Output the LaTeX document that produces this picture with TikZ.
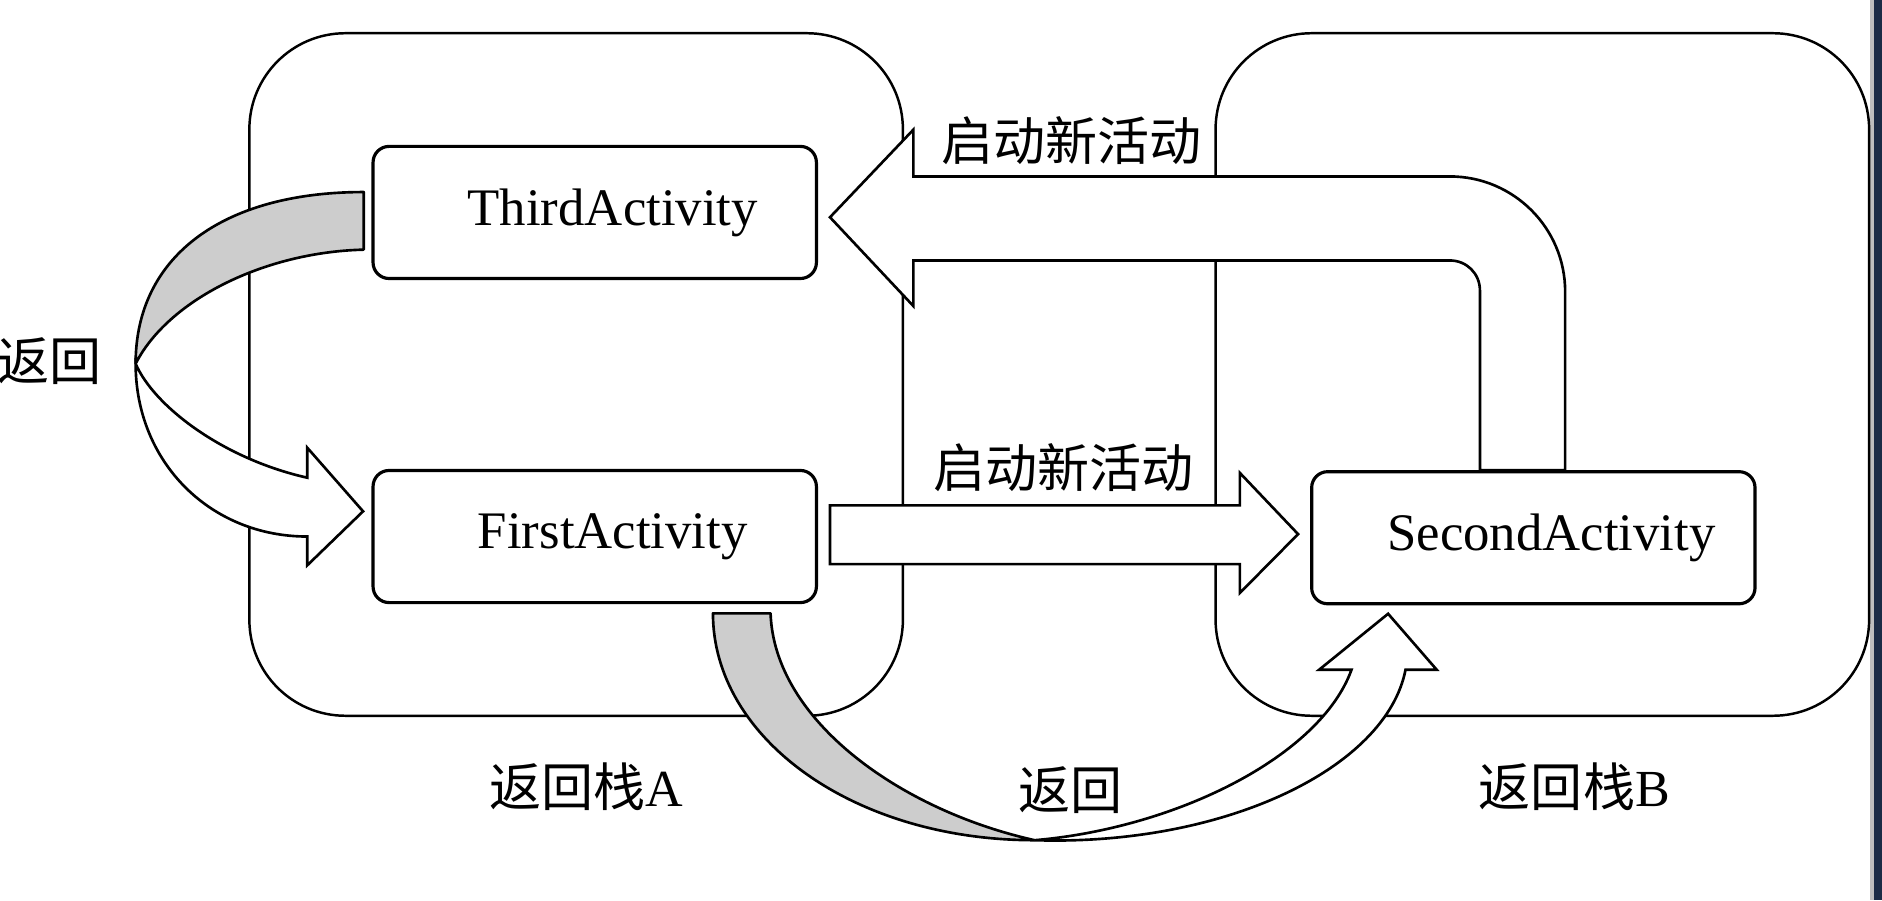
\documentclass[tikz,border=0pt]{standalone}
\usepackage{fontspec}
\setmainfont{Liberation Serif}
\newfontfamily\cjkfont{Noto Sans CJK SC}
\usetikzlibrary{calc,positioning}
\definecolor{ribbongray}{RGB}{205,205,205}
\definecolor{edgegray}{RGB}{190,190,190}
\definecolor{desknavy}{RGB}{28,44,70}
\tikzset{
  stackbox/.style={draw,line width=0.7pt,rounded corners=0.96cm,minimum width=6.53cm,minimum height=6.82cm,inner sep=0pt},
  actbox/.style={draw,fill=white,line width=0.9pt,rounded corners=0.16cm,minimum width=4.43cm,minimum height=1.32cm,
    inner sep=0pt,font=\fontsize{15}{18}\selectfont,execute at begin node={\hspace*{0.36cm}}},
  blockarrow/.style={draw,fill=white,line width=0.75pt,line join=miter},
  backface/.style={draw,fill=ribbongray,line width=0.75pt,line join=round},
  cnlabel/.style={font=\cjkfont\fontsize{14.8}{18}\selectfont,inner sep=0pt}
}
\begin{document}
\begin{tikzpicture}[x=0.012cm,y=-0.012cm]
  \useasboundingbox (0,0) rectangle (1568,750);
  \fill[edgegray] (1558,0) rectangle (1561,750);
  \fill[desknavy] (1561,0) rectangle (1568,750);
  \node[stackbox] (stackA) at (480,312) {};
  \node[stackbox] (stackB) at (1285,312) {};
  \node[cnlabel,below=0.45cm of stackA,xshift=0.1cm] (nameA) {返回栈\rmfamily A};
  \node[cnlabel,below=0.45cm of stackB,xshift=0.32cm] (nameB) {返回栈\rmfamily B};
  \node[actbox] (third) at (495.5,177) {ThirdActivity};
  \node[actbox] (first) at (495.5,447) {FirstActivity};
  \node[actbox] (second) at (1277.5,448) {SecondActivity};
  \draw[blockarrow] ($(second.north)+(-44.5,0)$) -- (1233,242) .. controls (1233,228) and (1222,217) .. (1208,217)
    -- (761,217) -- (761,255) -- ($(third.east)+(10,4)$) -- (761,108) -- (761,147) -- (1208,147)
    .. controls (1261,147) and (1304,190) .. (1304,243) -- ($(second.north)+(26.5,0)$) -- cycle;
  \draw[blockarrow] ($(first.east)+(10,-26)$) -- (1033,421) -- (1033,394) -- ($(second.west)+(-10,-3)$)
    -- (1033,494) -- (1033,470) -- ($(first.east)+(10,23)$) -- cycle;
  \draw[backface] (303,160) .. controls (185,160) and (113,214) .. (113,303)
    .. controls (140,250) and (220,210) .. (303,208) -- cycle;
  \draw[blockarrow] (113,303) .. controls (113,385) and (175,447) .. (256,447) -- (256,471) -- ($(first.west)+(-7,-21)$)
    -- (256,373) -- (256,398) .. controls (185,382) and (128,338) .. (113,303) -- cycle;
  \draw[backface] (594,511) .. controls (594,615) and (711,700) .. (862,700)
    .. controls (750,675) and (645,600) .. (642,511) -- cycle;
  \draw[blockarrow] (862,700) .. controls (1020,705) and (1155,640) .. (1171,558) -- (1197,558) -- ($(second.south)+(-121,7)$)
    -- (1099,558) -- (1126,558) .. controls (1100,630) and (980,690) .. (862,700) -- cycle;
  \node[cnlabel] (launchtop) at (893,117) {启动新活动};
  \node[cnlabel] (launchmid) at (886,390) {启动新活动};
  \node[cnlabel] (backleft) at (41,301) {返回};
  \node[cnlabel] (backbottom) at (892,658) {返回};
\end{tikzpicture}
\end{document}
